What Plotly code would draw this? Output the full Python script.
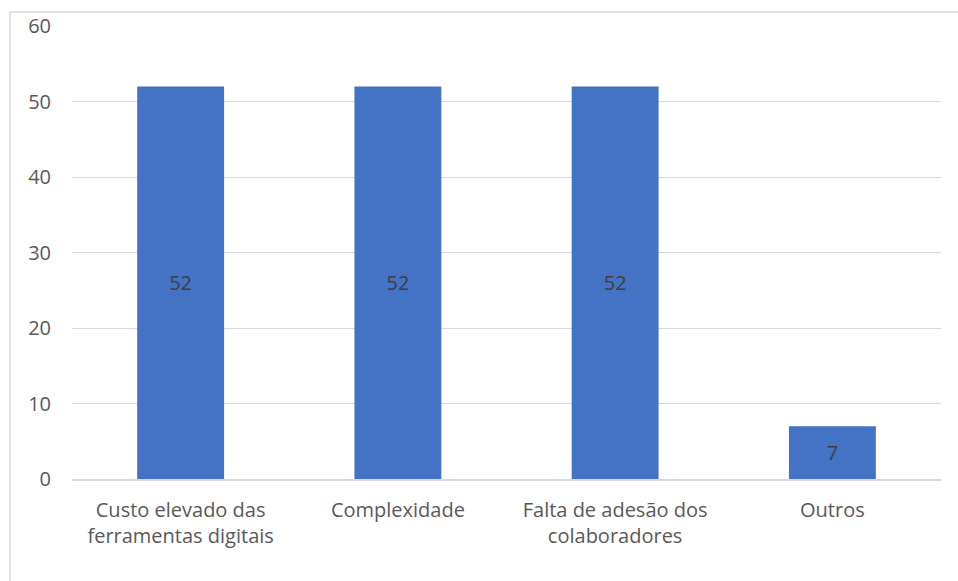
import plotly.graph_objects as go

categories = ["Custo elevado das<br>ferramentas digitais", "Complexidade",
              "Falta de adesão dos<br>colaboradores", "Outros"]
values = [52, 52, 52, 7]
y_ticks = [0, 10, 20, 30, 40, 50, 60]

W, H = 958, 581
ml, mr, mt, mb = 72, 17, 22, 102
pw, ph = W - ml - mr, H - mt - mb
FONT = "Open Sans, Liberation Sans, sans-serif"

fig = go.Figure(go.Bar(
    x=categories, y=values,
    marker=dict(color="#4472c4", line=dict(width=0)),
    text=[str(v) for v in values],
    textposition="inside", insidetextanchor="middle",
    textfont=dict(color="#404040", size=20, family=FONT),
    width=0.4,
))

fig.update_layout(
    width=W, height=H,
    margin=dict(l=ml, r=mr, t=mt, b=mb),
    paper_bgcolor="white", plot_bgcolor="white",
    font=dict(family=FONT, color="#595959", size=20),
    showlegend=False,
    xaxis=dict(showgrid=False, showline=True, linecolor="#d9d9d9", linewidth=2,
               ticks="", ticklabelstandoff=12, tickfont=dict(size=20, color="#595959")),
    yaxis=dict(range=[0, 60], tickvals=y_ticks, showgrid=True, gridcolor="#d9d9d9",
               gridwidth=1, zeroline=False, showline=False, ticks="",
               ticklabelstandoff=20, tickfont=dict(size=20, color="#595959")),
)

# outer chart border (left and top visible)
xl = (10 - ml) / pw
yt = (H - mb - 8) / ph
fig.add_shape(type="line", xref="paper", yref="paper", x0=xl, x1=xl, y0=yt, y1=-0.5,
              line=dict(color="#d9d9d9", width=1.5))
fig.add_shape(type="line", xref="paper", yref="paper", x0=xl, x1=1.2, y0=yt, y1=yt,
              line=dict(color="#d9d9d9", width=1.5))

fig.write_html("out.html")
